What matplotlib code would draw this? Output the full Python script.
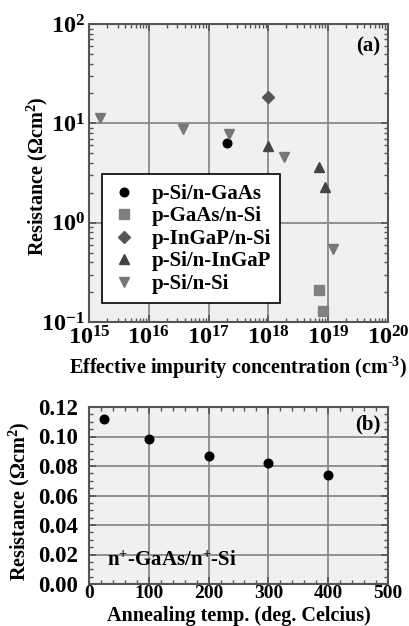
import numpy as np
import matplotlib
matplotlib.use("Agg")
import matplotlib.pyplot as plt
from matplotlib.ticker import LogLocator, MultipleLocator, FuncFormatter, NullFormatter

plt.rcParams['font.family'] = ['Liberation Serif', 'DejaVu Serif']
plt.rcParams['font.weight'] = 'bold'
plt.rcParams['mathtext.fontset'] = 'custom'
plt.rcParams['mathtext.rm'] = 'Liberation Serif:bold'
plt.rcParams['mathtext.bf'] = 'Liberation Serif:bold'
plt.rcParams['mathtext.it'] = 'Liberation Serif:bold:italic'
plt.rcParams['mathtext.default'] = 'bf'

# (a) resistance vs effective impurity concentration
si_gaas_x = [2.0e17]
si_gaas_y = [6.3]
gaas_si_x = [7.0e18, 8.3e18]
gaas_si_y = [0.21, 0.13]
ingap_si_x = [1.0e18]
ingap_si_y = [18.4]
si_ingap_x = [1.0e18, 7.0e18, 9.0e18]
si_ingap_y = [5.9, 3.6, 2.3]
si_si_x = [1.5e15, 3.7e16, 2.2e17, 1.8e18, 1.2e19]
si_si_y = [11.3, 8.8, 7.9, 4.6, 0.54]

# (b) resistance vs annealing temperature
anneal_temp = [25, 100, 200, 300, 400]
anneal_res = [0.112, 0.098, 0.087, 0.082, 0.074]

fig = plt.figure(figsize=(4.10, 6.26), dpi=100)
ax1 = fig.add_axes([89/410, 1 - 322/626, 299/410, 298/626])
ax2 = fig.add_axes([89/410, 1 - 584/626, 299/410, 177/626])

face = '#f0f0f0'
gridc = '#8a8a8a'

for ax in (ax1, ax2):
    ax.set_facecolor(face)
    ax.grid(True, which='major', color=gridc, linewidth=1.3)
    ax.set_axisbelow(True)
    for s in ax.spines.values():
        s.set_color('#555555')
        s.set_linewidth(1.5)
    ax.tick_params(which='both', direction='in', top=True, right=True,
                   color='#555555', pad=3)
    ax.tick_params(which='major', length=5, width=1.2)
    ax.tick_params(which='minor', length=3, width=1.0)

# panel (a)
ax1.set_xscale('log')
ax1.set_yscale('log')
ax1.set_xlim(1e15, 1e20)
ax1.set_ylim(1e-1, 1e2)
ax1.plot(si_gaas_x, si_gaas_y, 'o', color='black', ms=6.2, label='p-Si/n-GaAs')
ax1.plot(gaas_si_x, gaas_si_y, 's', color='#808080', ms=6.8, label='p-GaAs/n-Si')
ax1.plot(ingap_si_x, ingap_si_y, 'D', color='#555555', ms=6.2, label='p-InGaP/n-Si')
ax1.plot(si_ingap_x, si_ingap_y, '^', color='#444444', ms=7.5, label='p-Si/n-InGaP')
ax1.plot(si_si_x, si_si_y, 'v', color='#777777', ms=7.5, label='p-Si/n-Si')

logfmt = FuncFormatter(lambda v, p: r'$10^{%d}$' % int(round(np.log10(v))))
ax1.xaxis.set_major_locator(LogLocator(base=10, numticks=10))
ax1.yaxis.set_major_locator(LogLocator(base=10, numticks=10))
ax1.xaxis.set_major_formatter(logfmt)
ax1.yaxis.set_major_formatter(logfmt)
ax1.xaxis.set_minor_locator(LogLocator(base=10, subs=np.arange(2, 10), numticks=20))
ax1.yaxis.set_minor_locator(LogLocator(base=10, subs=np.arange(2, 10), numticks=20))
ax1.xaxis.set_minor_formatter(NullFormatter())
ax1.yaxis.set_minor_formatter(NullFormatter())
ax1.tick_params(axis='both', labelsize=17.5)

ax1.set_xlabel(r'Effective impurity concentration (cm$^{\text{-3}}$)', fontsize=14.5,
               fontweight='bold', labelpad=4)
ax1.set_ylabel(r'Resistance ($\Omega$cm$^{2}$)', fontsize=14.5, fontweight='bold')
ax1.yaxis.set_label_coords(-0.13, 0.49)
ax1.text(0.975, 0.923, '(a)', transform=ax1.transAxes, ha='right', va='center',
         fontsize=15, fontweight='bold')

leg = ax1.legend(loc='lower left', bbox_to_anchor=(0.045, 0.063), frameon=True,
                 fancybox=False, fontsize=15, handlelength=1.2, handletextpad=0.7,
                 borderpad=0.45, labelspacing=0.12, borderaxespad=0)
leg.get_frame().set_edgecolor('black')
leg.get_frame().set_linewidth(1.2)
leg.get_frame().set_facecolor('white')
leg.get_frame().set_alpha(1)
for t in leg.get_texts():
    t.set_fontweight('bold')

# panel (b)
ax2.plot(anneal_temp, anneal_res, 'o', color='black', ms=6.2)
ax2.set_xlim(0, 500)
ax2.set_ylim(0, 0.12)
ax2.xaxis.set_major_locator(MultipleLocator(100))
ax2.xaxis.set_minor_locator(MultipleLocator(20))
ax2.yaxis.set_major_locator(MultipleLocator(0.02))
ax2.yaxis.set_minor_locator(MultipleLocator(0.005))
ax2.yaxis.set_major_formatter(FuncFormatter(lambda v, p: '%.2f' % v))
ax2.tick_params(axis='y', labelsize=16.5, pad=8)
ax2.tick_params(axis='x', labelsize=14, pad=1)
ax2.set_xlabel('Annealing temp. (deg. Celcius)', fontsize=14.5, fontweight='bold')
ax2.xaxis.set_label_coords(0.5, -0.122)
ax2.set_ylabel(r'Resistance ($\Omega$cm$^{2}$)', fontsize=14.5, fontweight='bold')
ax2.yaxis.set_label_coords(-0.19, 0.47)
ax2.text(0.975, 0.90, '(b)', transform=ax2.transAxes, ha='right', va='center',
         fontsize=15, fontweight='bold')
ax2.text(0.06, 0.13, r'n$^{+}$-GaAs/n$^{+}$-Si', transform=ax2.transAxes,
         ha='left', va='center', fontsize=15, fontweight='bold')

fig.savefig('out.png', dpi=100)
